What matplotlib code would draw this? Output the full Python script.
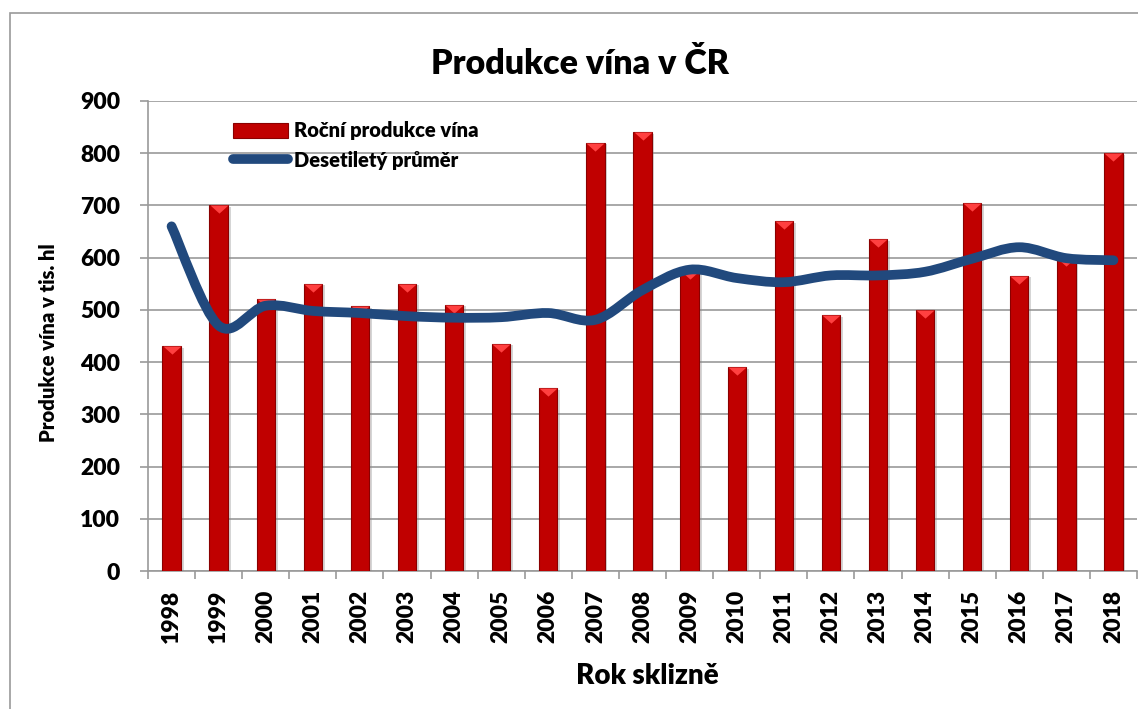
import numpy as np
import matplotlib
matplotlib.use('Agg')
import matplotlib.pyplot as plt
from matplotlib.path import Path
from matplotlib.patches import PathPatch, Rectangle
from matplotlib.lines import Line2D
import matplotlib.patheffects as pe

# data (tis. hl)
roky = [str(r) for r in range(1998, 2019)]
rocni_produkce = [430, 700, 520, 550, 507, 550, 510, 435, 350, 820, 840,
                  575, 390, 670, 490, 635, 500, 705, 565, 600, 800]
desetilety_prumer = [660, 470, 508, 498, 494, 488, 485, 486, 494, 481, 538,
                     577, 561, 553, 566, 566, 573, 598, 620, 599, 595]
y_ticks = [0, 100, 200, 300, 400, 500, 600, 700, 800, 900]

plt.rcParams['font.family'] = ['Lato', 'DejaVu Sans']
plt.rcParams['font.weight'] = 'heavy'
wt = 'heavy'

fig = plt.figure(figsize=(11.38, 7.09), dpi=100)
W, H = 1138, 709
ax = fig.add_axes([148 / W, 1 - 571 / H, (1137 - 148) / W, 470 / H])

grey = '#9A9A9A'
bar_red = '#C00000'
line_blue = '#21497D'

x = np.arange(len(roky))

# ramecek kolem grafu
fig.patches.append(Rectangle((10 / W, -0.1), 1.2, 1.1 - 13 / H, transform=fig.transFigure,
                             fill=False, edgecolor=grey, lw=1.2))

# sloupce
bars = ax.bar(x, rocni_produkce, width=0.39, color=bar_red, edgecolor='#8A0000', lw=0.8, zorder=3,
              path_effects=[pe.SimplePatchShadow(offset=(2, -1), shadow_rgbFace='#888888', alpha=0.35),
                            pe.Normal()])
# svetlejsi trojuhelnik nahore na sloupci
tri = Path([(-1, 0), (1, 0), (0, -0.9), (-1, 0)], [1, 2, 2, 79])
ax.plot(x, rocni_produkce, ls='none', marker=tri, markersize=13, color='#FF4040',
        markeredgewidth=0, zorder=4)

# vyhlazena cara (catmull-rom -> bezier)
pts = np.column_stack([x, desetilety_prumer]).astype(float)
ext = np.vstack([pts[0], pts, pts[-1]])
verts = [tuple(pts[0])]
codes = [Path.MOVETO]
for i in range(len(pts) - 1):
    p0, p1, p2, p3 = ext[i], ext[i + 1], ext[i + 2], ext[i + 3]
    c1 = p1 + (p2 - p0) / 6
    c2 = p2 - (p3 - p1) / 6
    verts += [tuple(c1), tuple(c2), tuple(p2)]
    codes += [Path.CURVE4] * 3
ax.add_patch(PathPatch(Path(verts, codes), fill=False, edgecolor=line_blue, lw=7,
                       capstyle='round', joinstyle='round', zorder=5))

ax.set_xlim(-0.5, len(roky) - 0.5)
ax.set_ylim(0, 900)
ax.set_yticks(y_ticks)
ax.set_yticklabels([str(v) for v in y_ticks], fontsize=16.5, fontweight=wt)
ax.set_xticks(x)
ax.set_xticklabels(roky, rotation=90, fontsize=16.5, fontweight=wt, va='top', ha='center')
ax.set_xticks(np.arange(-0.5, len(roky), 1), minor=True)
ax.tick_params(axis='x', which='major', length=0, pad=13.5)
ax.tick_params(axis='x', which='minor', length=6, width=1.2, color=grey, direction='out')
ax.tick_params(axis='y', length=6, width=1.2, color=grey, pad=14)

ax.grid(axis='y', color=grey, lw=1.2, zorder=0)
ax.set_axisbelow(True)
for s in ['top', 'right']:
    ax.spines[s].set_visible(False)
for s in ['left', 'bottom']:
    ax.spines[s].set_color(grey)
    ax.spines[s].set_linewidth(1.2)

# popisky
fig.text(580 / W, 1 - 64 / H, 'Produkce vína v ČR', ha='center', va='center', fontsize=24.5, fontweight=wt)
fig.text(647 / W, 1 - 676 / H, 'Rok sklizně', ha='center', va='center', fontsize=20, fontweight=wt)
fig.text(49 / W, 1 - 343 / H, 'Produkce vína v tis. hl', ha='center', va='center', rotation=90,
         fontsize=14.6, fontweight=wt)

handles = [Rectangle((0, 0), 1, 1, facecolor=bar_red, edgecolor='#8A0000', lw=0.8),
           Line2D([0], [0], color=line_blue, lw=7, solid_capstyle='round')]
ax.legend(handles, ['Roční produkce vína', 'Desetiletý průměr'], loc='upper left',
          bbox_to_anchor=(0.068, 0.995), frameon=False, handlelength=2.7,
          handleheight=0.8, handletextpad=0.3, labelspacing=0.5, prop={'weight': wt, 'size': 14.5})

fig.savefig('out.png', dpi=100)
